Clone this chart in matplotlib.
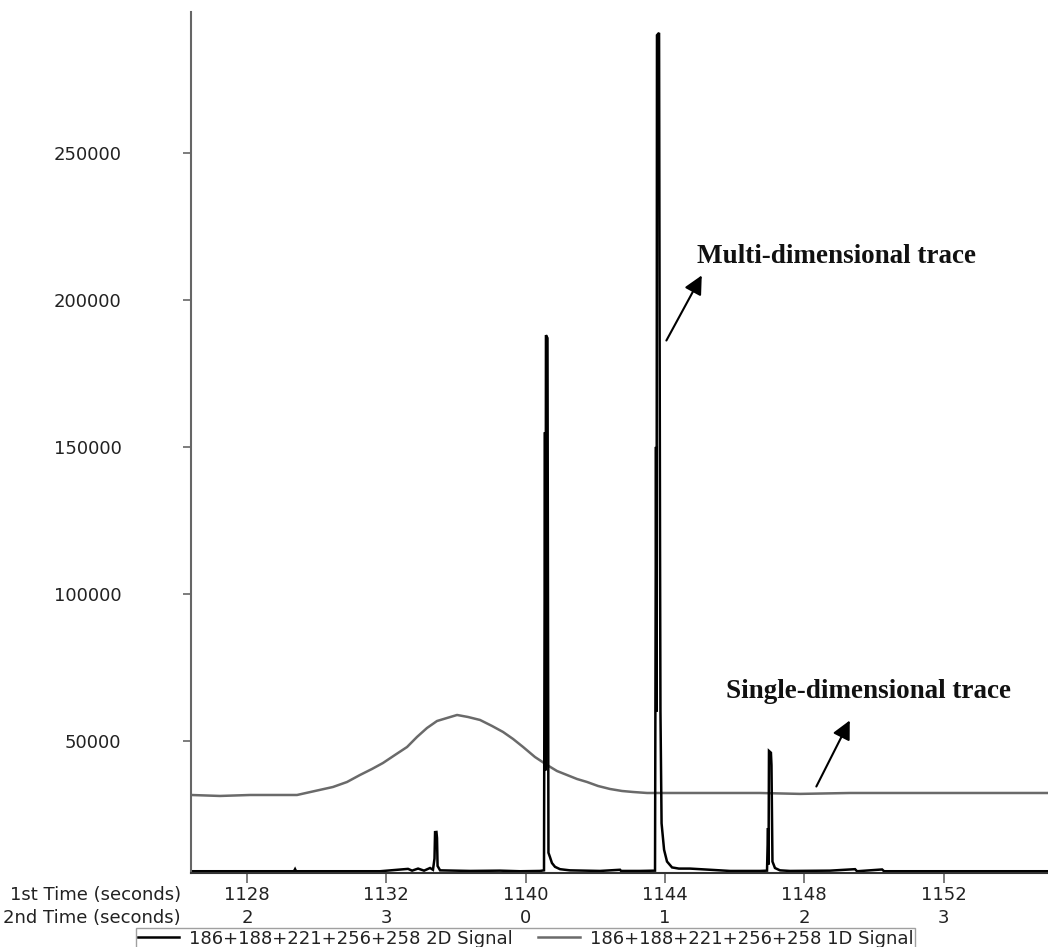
import matplotlib
matplotlib.use("Agg")
import matplotlib.pyplot as plt
import matplotlib.transforms as mtransforms

# ---------------- data (x in tick-index units, y in signal counts) ----------------
tick_pos = [0, 1, 2, 3, 4, 5]
first_time_labels = ["1128", "1132", "1140", "1144", "1148", "1152"]
second_time_labels = ["2", "3", "0", "1", "2", "3"]
ytick_vals = [50000, 100000, 150000, 200000, 250000]

# 1D signal (grey, broad peak)
x_1d = [-0.402, -0.194, 0.022, 0.237, 0.359, 0.488, 0.617, 0.718, 0.811, 0.897,
        0.976, 1.062, 1.149, 1.220, 1.292, 1.364, 1.436, 1.508, 1.586, 1.673,
        1.759, 1.838, 1.910, 1.982, 2.067, 2.154, 2.225, 2.297, 2.369, 2.441,
        2.520, 2.606, 2.692, 2.771, 2.872, 2.965, 3.252, 3.683, 3.970, 4.329,
        4.688, 5.047, 5.406, 5.750]
y_1d = [31630, 31300, 31630, 31630, 31630, 32990, 34350, 36050, 38430, 40470,
        42510, 45230, 47950, 51350, 54410, 56790, 57820, 58840, 58160, 57140,
        55100, 53060, 50680, 47950, 44550, 41830, 39790, 38430, 37070, 36050,
        34690, 33670, 32990, 32650, 32310, 32310, 32310, 32310, 32000, 32310,
        32310, 32310, 32310, 32310]

# 2D signal (black, modulated sharp peaks)
x_2d = [-0.402, -0.050, 0.337, 0.345, 0.352, 0.955, 1.156, 1.185, 1.228, 1.271, 1.314, 1.335,
        1.346, 1.350, 1.360, 1.364, 1.368, 1.386, 1.601, 1.816, 1.960, 2.103,
        2.132, 2.139, 2.143, 2.146, 2.157, 2.164, 2.175, 2.189, 2.211, 2.247, 2.319, 2.534,
        2.678, 2.685, 2.821, 2.929,
        2.936, 2.940, 2.943, 2.958, 2.965, 2.968, 2.976, 2.994, 3.015, 3.051, 3.100, 3.180,
        3.324, 3.467, 3.683, 3.733,
        3.740, 3.744, 3.747, 3.761, 3.765, 3.772, 3.790, 3.826, 3.898, 4.185, 4.365, 4.379,
        4.559, 4.573, 5.750]
y_2d = [5700, 5700, 5700, 6400, 5700, 5700, 6500, 5900, 6600, 5900, 6800, 6200,
        10000, 19000, 19050, 17000, 7500, 6000, 5800, 5900, 5700, 5800,
        6000, 155000, 40000, 188000, 187000, 12000, 10500, 8500, 7200, 6400, 6000, 5800,
        6200, 5800, 5800, 5900,
        150000, 60000, 290000, 290800, 115000, 60000, 22000, 13000, 9000, 7000, 6600, 6600,
        6200, 5800, 5800, 5900,
        20400, 8000, 46600, 46000, 41800, 9000, 6800, 6000, 5800, 5900, 6400, 5700,
        6300, 5700, 5700]

legend_labels = ["186+188+221+256+258 2D Signal", "186+188+221+256+258 1D Signal"]

# ---------------- figure ----------------
W, H = 1048, 947
fig = plt.figure(figsize=(W / 100, H / 100), dpi=100)
fig.patch.set_facecolor("white")
ax = fig.add_axes([191 / W, 74 / H, 857 / W, 861 / H])
ax.set_facecolor("white")

l1d, = ax.plot(x_1d, y_1d, color="#6a6a6a", lw=1.8)
l2d, = ax.plot(x_2d, y_2d, color="black", lw=1.8, solid_joinstyle="miter")

ax.set_xlim(-0.402, 5.750)
ax.set_ylim(5100, 297900)

for s in ["top", "right"]:
    ax.spines[s].set_visible(False)
ax.spines["left"].set_color("#666666")
ax.spines["left"].set_linewidth(1.5)
ax.spines["bottom"].set_color("#333333")
ax.spines["bottom"].set_linewidth(1.5)

ax.set_yticks(ytick_vals)
ax.set_yticklabels([str(v) for v in ytick_vals])
ax.tick_params(axis="y", length=6, width=1.2, color="#666666", pad=44,
               labelsize=13, labelcolor="#222222")
ax.set_xticks(tick_pos)
ax.set_xticklabels(first_time_labels)
ax.tick_params(axis="x", length=7, width=1.2, color="#666666", pad=2,
               labelsize=13, labelcolor="#222222")

# second row of x labels
trans = mtransforms.blended_transform_factory(ax.transData, fig.transFigure)
for p, lab in zip(tick_pos, second_time_labels):
    ax.text(p, 1 - 918 / H, lab, transform=trans, ha="center", va="center",
            fontsize=13, color="#222222")
fig.text(181 / W, 1 - 895 / H, "1st Time (seconds)", ha="right", va="center",
         fontsize=13, color="#222222")
fig.text(181 / W, 1 - 918 / H, "2nd Time (seconds)", ha="right", va="center",
         fontsize=13, color="#222222")

# annotations
ax.annotate("", xy=(3.274, 209160), xytext=(3.001, 185350),
            arrowprops=dict(arrowstyle="-|>", color="black", lw=1.5, mutation_scale=28))
ax.text(3.230, 214600, "Multi-dimensional trace", ha="left", va="center",
        fontsize=19.5, fontweight="bold", family="Liberation Serif", color="#111111")
ax.annotate("", xy=(4.336, 57820), xytext=(4.078, 33670),
            arrowprops=dict(arrowstyle="-|>", color="black", lw=1.5, mutation_scale=28))
ax.text(3.439, 66660, "Single-dimensional trace", ha="left", va="center",
        fontsize=19.5, fontweight="bold", family="Liberation Serif", color="#111111")

leg = fig.legend([l2d, l1d], legend_labels, loc="upper left",
                 bbox_to_anchor=(136 / W, 1 - 928 / H), ncol=2, frameon=True,
                 fancybox=False, edgecolor="#888888", fontsize=13,
                 handlelength=2.3, handletextpad=0.55, columnspacing=1.4,
                 borderpad=0.1, borderaxespad=0)
leg.get_frame().set_linewidth(1.0)
for t in leg.get_texts():
    t.set_color("#222222")

fig.savefig("out.png", dpi=100)
